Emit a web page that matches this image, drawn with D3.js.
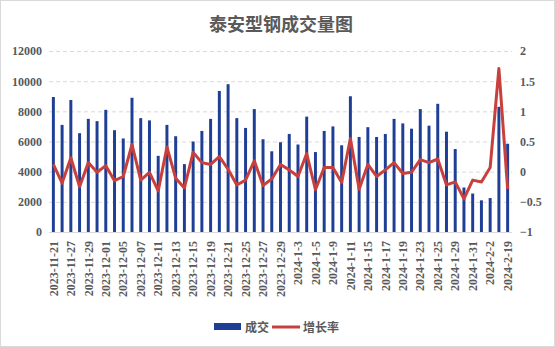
<!DOCTYPE html>
<html><head><meta charset="utf-8">
<script src="https://cdn.jsdelivr.net/npm/d3@7/dist/d3.min.js"></script>
<style>
html,body{margin:0;padding:0;background:#fff;}
svg{display:block;}
</style></head>
<body>
<svg id="chart" width="555" height="347"></svg>
<script>
const dates = ["2023-11-21","2023-11-24","2023-11-27","2023-11-28","2023-11-29","2023-11-30","2023-12-01","2023-12-04","2023-12-05","2023-12-06","2023-12-07","2023-12-08","2023-12-11","2023-12-12","2023-12-13","2023-12-14","2023-12-15","2023-12-18","2023-12-19","2023-12-20","2023-12-21","2023-12-22","2023-12-25","2023-12-26","2023-12-27","2023-12-28","2023-12-29","2024-1-2","2024-1-3","2024-1-4","2024-1-5","2024-1-8","2024-1-9","2024-1-10","2024-1-11","2024-1-12","2024-1-15","2024-1-16","2024-1-17","2024-1-18","2024-1-19","2024-1-22","2024-1-23","2024-1-24","2024-1-25","2024-1-26","2024-1-29","2024-1-30","2024-1-31","2024-2-1","2024-2-2","2024-2-18","2024-2-19"];
const volume = [8950,7100,8750,6550,7500,7350,8100,6750,6200,8900,7550,7400,5050,7100,6350,4500,6000,6700,7500,9350,9800,7550,6900,8150,6150,5350,5950,6500,5800,7650,5300,6700,7000,5750,9000,6300,6950,6300,6500,7500,7200,6850,8150,7050,8500,6650,5500,2950,2550,2100,2250,8300,5850];
const growth = [0.12,-0.19,0.23,-0.25,0.15,-0.01,0.10,-0.15,-0.08,0.45,-0.14,-0.01,-0.32,0.41,-0.11,-0.27,0.32,0.15,0.12,0.25,0.04,-0.22,-0.14,0.18,-0.23,-0.12,0.12,0.03,-0.08,0.30,-0.30,0.07,0.07,-0.18,0.55,-0.29,0.12,-0.08,0.03,0.15,-0.03,-0.01,0.20,0.15,0.21,-0.22,-0.17,-0.45,-0.14,-0.17,0.07,1.71,-0.29];
const leftTicks = [0,2000,4000,6000,8000,10000,12000];
const rightTicks = [-1,-0.5,0,0.5,1,1.5,2];
const title = "泰安型钢成交量图";
const seriesNames = ["成交","增长率"];

(function(){
const svg = d3.select("#chart");
const W = 555, H = 347;
const pL = 49, pR = 512, pT = 51, pB = 232;
const txt = "#595959";
const blue = "#1f3f96";
const red = "#c8403d";
const numFont = "'Liberation Serif', serif";

svg.append("rect").attr("x",0.5).attr("y",0.5).attr("width",W-1).attr("height",H-1)
  .attr("fill","#fff").attr("stroke","#d9d9d9");

svg.append("text").attr("x",281).attr("y",31).attr("text-anchor","middle")
  .attr("font-family","'Noto Sans CJK SC', sans-serif").attr("font-weight","bold")
  .attr("font-size",18).attr("fill",txt).text(title);

const x = d3.scaleBand().domain(dates).range([pL,pR]).paddingInner(0.66).paddingOuter(0.33);
const yL = d3.scaleLinear().domain([0,12000]).range([pB,pT]);
const yR = d3.scaleLinear().domain([-1,2]).range([pB,pT]);

const grid = svg.append("g").attr("transform",`translate(${pL},0)`)
  .call(d3.axisLeft(yL).tickValues(leftTicks.filter(d=>d>0)).tickSize(-(pR-pL)).tickFormat(""));
grid.select(".domain").remove();
grid.selectAll("line").attr("stroke","#d9d9d9").attr("stroke-dasharray","4,3");

const la = svg.append("g").attr("transform",`translate(${pL-7},0)`)
  .call(d3.axisLeft(yL).tickValues(leftTicks).tickSize(0).tickPadding(0).tickFormat(d=>String(d)));
la.select(".domain").remove();
la.selectAll("text").attr("font-family",numFont).attr("font-weight","bold").attr("font-size",12).attr("fill",txt);

const ra = svg.append("g").attr("transform",`translate(${pR+8},0)`)
  .call(d3.axisRight(yR).tickValues(rightTicks).tickSize(0).tickPadding(0).tickFormat(d=>d<0?"\u2212"+String(Math.abs(d)):String(d)));
ra.select(".domain").remove();
ra.selectAll("text").attr("font-family",numFont).attr("font-weight","bold").attr("font-size",12).attr("fill",txt);

svg.append("g").selectAll("rect").data(volume).join("rect")
  .attr("x",(d,i)=>x(dates[i])).attr("width",x.bandwidth())
  .attr("y",d=>yL(d)).attr("height",d=>pB-yL(d)).attr("fill",blue);

svg.append("line").attr("x1",pL).attr("x2",pR).attr("y1",pB+0.5).attr("y2",pB+0.5)
  .attr("stroke","#d9d9d9").attr("stroke-width",1);

const xa = svg.append("g").attr("transform",`translate(0,${pB})`)
  .call(d3.axisBottom(x).tickValues(dates.filter((d,i)=>i%2===0)).tickSize(0).tickPadding(0));
xa.select(".domain").remove();
xa.selectAll("text").attr("font-family",numFont).attr("font-weight","bold").attr("font-size",12).attr("fill",txt)
  .attr("text-anchor","end").attr("transform","rotate(-90)").attr("x",-9).attr("y",0).attr("dy","0.35em");

const line = d3.line().x((d,i)=>x(dates[i])+x.bandwidth()/2).y(d=>yR(d));
svg.append("path").datum(growth).attr("d",line).attr("fill","none")
  .attr("stroke",red).attr("stroke-width",3).attr("stroke-linejoin","round");

const lg = svg.append("g");
lg.append("rect").attr("x",214).attr("y",323).attr("width",27).attr("height",7).attr("fill",blue);
lg.append("text").attr("x",245).attr("y",332).attr("font-family","'Noto Sans CJK SC', sans-serif").attr("font-weight","bold")
  .attr("font-size",12).attr("fill",txt).text(seriesNames[0]);
lg.append("line").attr("x1",272).attr("x2",300).attr("y1",327).attr("y2",327).attr("stroke",red).attr("stroke-width",3);
lg.append("text").attr("x",303).attr("y",332).attr("font-family","'Noto Sans CJK SC', sans-serif").attr("font-weight","bold")
  .attr("font-size",12).attr("fill",txt).text(seriesNames[1]);
})();
</script>
</body></html>
